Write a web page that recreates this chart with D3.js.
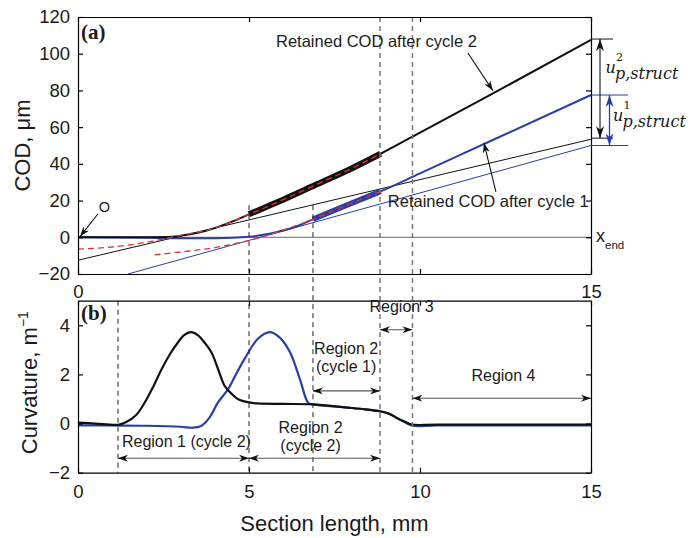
<!DOCTYPE html>
<html>
<head>
<meta charset="utf-8">
<script src="https://cdn.jsdelivr.net/npm/d3@7"></script>
<style>
body { margin: 0; background: #fff; }
text { font-family: "Liberation Sans", Arial, Helvetica, sans-serif; fill: #1a1a1a; }
</style>
</head>
<body>
<div id="chart"></div>
<script>
// ticks
var xTicks = [0, 5, 10, 15];
var codTicks = [-20, 0, 20, 40, 60, 80, 100, 120];
var curvTicks = [-2, 0, 2, 4];
var panelAXLabels = [0, 15];

// (a) retained COD after cycle 2 (black), um
var cycle2X   = [0, 1, 2, 2.6, 3.0, 3.5, 4.0, 4.5, 5.0, 5.5, 6.0, 7.0, 8.0, 8.85, 10, 12, 15];
var cycle2Cod = [0, 0, 0, 0.1, 0.8, 2.4, 5.0, 8.5, 12.5, 16.5, 20.5, 29, 37.5, 45.5, 57, 77, 107.5];
// (a) retained COD after cycle 1 (blue), um
var cycle1X   = [0, 2, 3, 4, 4.5, 5.0, 5.5, 5.85, 6.4, 6.87, 7.8, 8.85, 10, 12, 15];
var cycle1Cod = [0, -0.3, -0.5, -0.5, -0.3, 0.3, 1.6, 3, 6, 9.8, 17, 25, 34.8, 51.9, 77.5];
// part of each curve drawn thick
var thick2Range = [5.0, 8.85];
var thick1Range = [6.87, 8.85];
// red dashed fits
var fit2X   = [0, 1, 2, 3, 4, 5.0, 6.0, 7.0, 8.0, 8.85];
var fit2Cod = [-6.4, -5.3, -2.7, 1.0, 5.0, 12.5, 20.5, 29, 37.5, 45.5];
var fit1X   = [2.24, 3, 4, 4.5, 5.26, 5.85, 6.87, 7.8, 8.85];
var fit1Cod = [-9.6, -8.0, -5.6, -3.8, -0.5, 3, 9.8, 17, 25];
// thin straight lines
var line2X = [0, 15], line2Cod = [-12.5, 53.4];
var line1X = [1.46, 15], line1Cod = [-20, 50];
// u_p,struct levels at x = 15
var up2Levels = [108, 54];
var up1Levels = [77.5, 50];

// (b) curvature, 1/m
var curv2X = [0, 0.5, 1.17, 1.4, 1.7, 1.95, 2.2, 2.44, 2.7, 2.92, 3.1, 3.31, 3.5, 3.7, 3.9, 4.1, 4.29, 4.5, 4.68, 5.0, 5.26, 6.0, 6.88, 7.8, 8.4, 8.83, 9.1, 9.32, 9.55, 9.76, 10.5, 15];
var curv2  = [0.04, 0.0, -0.05, 0.05, 0.35, 0.85, 1.5, 2.2, 2.85, 3.3, 3.6, 3.72, 3.6, 3.3, 2.9, 2.2, 1.53, 1.2, 0.99, 0.86, 0.82, 0.8, 0.78, 0.66, 0.58, 0.5, 0.4, 0.23, 0.08, -0.04, -0.04, -0.04];
var curv1X = [0, 1, 2, 3, 3.35, 3.6, 3.85, 4.09, 4.39, 4.6, 4.87, 5.26, 5.61, 5.9, 6.2, 6.49, 6.73, 6.88, 7.8, 8.4, 8.83, 9.1, 9.32, 9.55, 9.76, 10.5, 15];
var curv1  = [-0.07, -0.08, -0.09, -0.13, -0.17, -0.1, 0.25, 0.85, 1.4, 1.95, 2.63, 3.45, 3.72, 3.5, 2.9, 1.8, 0.85, 0.78, 0.66, 0.58, 0.5, 0.4, 0.23, 0.06, -0.08, -0.08, -0.08];

// region borders (mm) and where the dashed line starts in (a)
var borders = [1.17, 5, 6.87, 8.83, 9.78];
var borderTopCod = [null, 17.5, 17.5, 120, 120];

var regionNames  = [["Region 1 (cycle 2)"], ["Region 2", "(cycle 2)"], ["Region 2", "(cycle 1)"], ["Region 3"], ["Region 4"]];
var regionFrom   = [1.17, 5, 6.87, 8.83, 9.78];
var regionTo     = [5, 8.83, 8.83, 9.78, 15];
var regionArrowY = [-1.41, -1.41, 1.33, 3.82, 1.03];
var regionTextX  = [3.17, 6.8, 7.84, 9.46, 12.44];
var regionTextY  = [-0.73, -0.16, 3.04, 4.76, 1.97];

var black = "#111", blue = "#2b3ea6", red = "#e5332a";

var svg = d3.select("#chart")
    .append("svg")
    .attr("width", 693)
    .attr("height", 538);

var defs = svg.append("defs");
function addHead(id, color, len, wid){
    defs.append("marker")
        .attr("id", id)
        .attr("viewBox", "0 0 10 10")
        .attr("refX", 10).attr("refY", 5)
        .attr("markerUnits", "userSpaceOnUse")
        .attr("markerWidth", len).attr("markerHeight", wid)
        .attr("preserveAspectRatio", "none")
        .attr("orient", "auto-start-reverse")
        .append("path")
        .attr("d", "M0,0 L10,5 L0,10 L3,5 Z")
        .attr("fill", color);
}
addHead("head", black, 10, 7);
addHead("headBig", black, 12, 8);
addHead("headBlue", blue, 12, 8);

var left = 78, right = 591;
var x = d3.scaleLinear().domain([0, 15]).range([left, right]);
var yA = d3.scaleLinear().domain([-20, 120]).range([274, 17]);
var yB = d3.scaleLinear().domain([-2, 5]).range([472.7, 300.7]);

function frame(yScale, yTicks, xLabels, xPad){
    var top = yScale.range()[1], bottom = yScale.range()[0];
    var fmt = d3.format("d");
    var gl = svg.append("g").attr("transform", "translate(" + left + ",0)")
        .call(d3.axisLeft(yScale).tickValues(yTicks).tickSize(-5).tickSizeOuter(0).tickPadding(8).tickFormat(fmt));
    var gr = svg.append("g").attr("transform", "translate(" + right + ",0)")
        .call(d3.axisRight(yScale).tickValues(yTicks).tickSize(-5).tickSizeOuter(0).tickFormat(""));
    var gt = svg.append("g").attr("transform", "translate(0," + top + ")")
        .call(d3.axisTop(x).tickValues(xTicks).tickSize(-5).tickSizeOuter(0).tickFormat(""));
    var gb = svg.append("g").attr("transform", "translate(0," + bottom + ")")
        .call(d3.axisBottom(x).tickValues(xTicks).tickSize(-5).tickSizeOuter(0).tickPadding(xPad)
            .tickFormat(function(d){ return xLabels.indexOf(d) >= 0 ? fmt(d) : ""; }));
    [gl, gr, gt, gb].forEach(function(g){
        g.attr("font-size", 18.5);
        g.selectAll("path, line").attr("stroke", "#000").attr("stroke-width", 1.2);
    });
}

// ---------- panel (a) ----------
var lineA = d3.line().x(function(d){ return x(d[0]); }).y(function(d){ return yA(d[1]); });
var curveA = d3.line().curve(d3.curveMonotoneX).x(function(d){ return x(d[0]); }).y(function(d){ return yA(d[1]); });

var pa = svg.append("g");
pa.append("path").attr("d", lineA([[0, 0], [15, 0]])).attr("stroke", "#666").attr("stroke-width", 1).attr("fill", "none");
pa.append("path").attr("d", lineA(d3.zip(line2X, line2Cod))).attr("stroke", black).attr("stroke-width", 1).attr("fill", "none");
pa.append("path").attr("d", lineA(d3.zip(line1X, line1Cod))).attr("stroke", blue).attr("stroke-width", 1).attr("fill", "none");

var c1 = d3.zip(cycle1X, cycle1Cod), c2 = d3.zip(cycle2X, cycle2Cod);
pa.append("path").attr("d", curveA(c1)).attr("stroke", blue).attr("stroke-width", 2).attr("fill", "none");
pa.append("path").attr("d", curveA(c2)).attr("stroke", black).attr("stroke-width", 2).attr("fill", "none");
pa.append("path").attr("d", curveA(c1.filter(function(d){ return d[0] >= thick1Range[0] && d[0] <= thick1Range[1]; })))
    .attr("stroke", blue).attr("stroke-width", 5.5).attr("fill", "none");
pa.append("path").attr("d", curveA(c2.filter(function(d){ return d[0] >= thick2Range[0] && d[0] <= thick2Range[1]; })))
    .attr("stroke", black).attr("stroke-width", 6).attr("fill", "none");
pa.append("path").attr("d", curveA(d3.zip(fit2X, fit2Cod))).attr("stroke", red).attr("stroke-width", 1.3)
    .attr("stroke-dasharray", "6,4").attr("fill", "none");
pa.append("path").attr("d", curveA(d3.zip(fit1X, fit1Cod))).attr("stroke", red).attr("stroke-width", 1.3)
    .attr("stroke-dasharray", "6,4").attr("fill", "none");

// ---------- panel (b) ----------
var curveB = d3.line().curve(d3.curveCatmullRom.alpha(0.5)).x(function(d){ return x(d[0]); }).y(function(d){ return yB(d[1]); });
var pb = svg.append("g");
pb.append("path").attr("d", curveB(d3.zip(curv1X, curv1))).attr("stroke", blue).attr("stroke-width", 2.2).attr("fill", "none");
pb.append("path").attr("d", curveB(d3.zip(curv2X, curv2))).attr("stroke", black).attr("stroke-width", 2.2).attr("fill", "none");

// dashed region borders across both panels
borders.forEach(function(b, i){
    var top = borderTopCod[i] === null ? yB(5) : yA(borderTopCod[i]);
    svg.append("line")
        .attr("x1", x(b)).attr("x2", x(b))
        .attr("y1", top).attr("y2", yB(-2))
        .attr("stroke", i >= 3 ? "#777" : "#222")
        .attr("stroke-width", i >= 3 ? 1.5 : 1)
        .attr("stroke-dasharray", "5,4");
});

frame(yA, codTicks, panelAXLabels, 11);
frame(yB, curvTicks, xTicks, 12);

// panel letters
svg.append("text").attr("x", 81).attr("y", 39).text("(a)")
    .style("font-family", "'Liberation Serif', 'Times New Roman', serif").style("font-weight", "bold").attr("font-size", 21);
svg.append("text").attr("x", 81).attr("y", 320).text("(b)")
    .style("font-family", "'Liberation Serif', 'Times New Roman', serif").style("font-weight", "bold").attr("font-size", 21);

// axis titles
svg.append("text").attr("transform", "translate(30," + (yA(50)) + ") rotate(-90)")
    .attr("text-anchor", "middle").attr("font-size", 22).text("COD, \u03bcm");
var ct = svg.append("text").attr("transform", "translate(37," + (yB(1.5) - 4) + ") rotate(-90)")
    .attr("text-anchor", "middle").attr("font-size", 22);
ct.append("tspan").text("Curvature, m");
ct.append("tspan").attr("dy", -9).attr("font-size", 14).text("\u22121");
svg.append("text").attr("x", x(7.5)).attr("y", 531).attr("text-anchor", "middle").attr("font-size", 22)
    .text("Section length, mm");

// annotations in (a)
function arrow(x1, y1, x2, y2, head, color, both){
    var l = svg.append("line").attr("x1", x1).attr("y1", y1).attr("x2", x2).attr("y2", y2)
        .attr("stroke", color).attr("stroke-width", 1.1)
        .attr("marker-end", "url(#" + head + ")");
    if (both) l.attr("marker-start", "url(#" + head + ")");
    return l;
}
svg.append("text").attr("x", x(5.79)).attr("y", yA(103.9)).attr("font-size", 16.5).text("Retained COD after cycle 2");
arrow(x(11.4), yA(100.4), x(12.13), yA(79.9), "head", black);
svg.append("text").attr("x", x(9.06)).attr("y", yA(16.5)).attr("font-size", 16.5).text("Retained COD after cycle 1");
arrow(x(12.22), yA(24.7), x(11.87), yA(51.4), "head", black);
svg.append("text").attr("x", x(0.61)).attr("y", yA(13.9)).attr("font-size", 14.5).text("O");
arrow(x(0.58), yA(12.7), x(0.06), yA(0.4), "head", black);

var xe = svg.append("text").attr("x", x(15) + 5).attr("y", yA(0) + 4.5).attr("font-size", 18);
xe.append("tspan").text("x");
xe.append("tspan").attr("dy", 7).attr("font-size", 11.5).text("end");

// u_p,struct dimension marks
up2Levels.forEach(function(v){
    svg.append("line").attr("x1", x(15)).attr("x2", x(15) + 22).attr("y1", yA(v)).attr("y2", yA(v))
        .attr("stroke", black).attr("stroke-width", 1);
});
up1Levels.forEach(function(v){
    svg.append("line").attr("x1", x(15)).attr("x2", x(15) + 37).attr("y1", yA(v)).attr("y2", yA(v))
        .attr("stroke", blue).attr("stroke-width", 1);
});
arrow(x(15) + 9, yA(up2Levels[0]), x(15) + 9, yA(up2Levels[1]), "headBig", black, true);
arrow(x(15) + 18.5, yA(up1Levels[0]), x(15) + 18.5, yA(up1Levels[1]), "headBlue", blue, true)
    .attr("stroke-width", 1.3);

function upLabel(px, py, sup){
    var g = svg.append("g").style("font-family", "'DejaVu Serif', serif").style("font-style", "italic");
    g.append("text").attr("x", px).attr("y", py).attr("font-size", 16).style("font-family", "inherit").text("u");
    g.append("text").attr("x", px + 10.5).attr("y", py - 12.5).attr("font-size", 11)
        .style("font-family", "inherit").style("font-style", "normal").text(sup);
    g.append("text").attr("x", px + 9.5).attr("y", py + 6).attr("font-size", 16).style("font-family", "inherit").text("p,struct");
}
upLabel(605.5, 73, "2");
upLabel(613, 121, "1");

// region arrows and labels in (b)
regionNames.forEach(function(lines, i){
    arrow(x(regionFrom[i]), yB(regionArrowY[i]), x(regionTo[i]), yB(regionArrowY[i]), "head", "#555", true);
    var t = svg.append("text").attr("text-anchor", "middle").attr("font-size", 16);
    lines.forEach(function(s, k){
        t.append("tspan").attr("x", x(regionTextX[i])).attr("y", yB(regionTextY[i]) + 17.5 * k).attr("dy", "0.35em").text(s);
    });
});
</script>
</body>
</html>
